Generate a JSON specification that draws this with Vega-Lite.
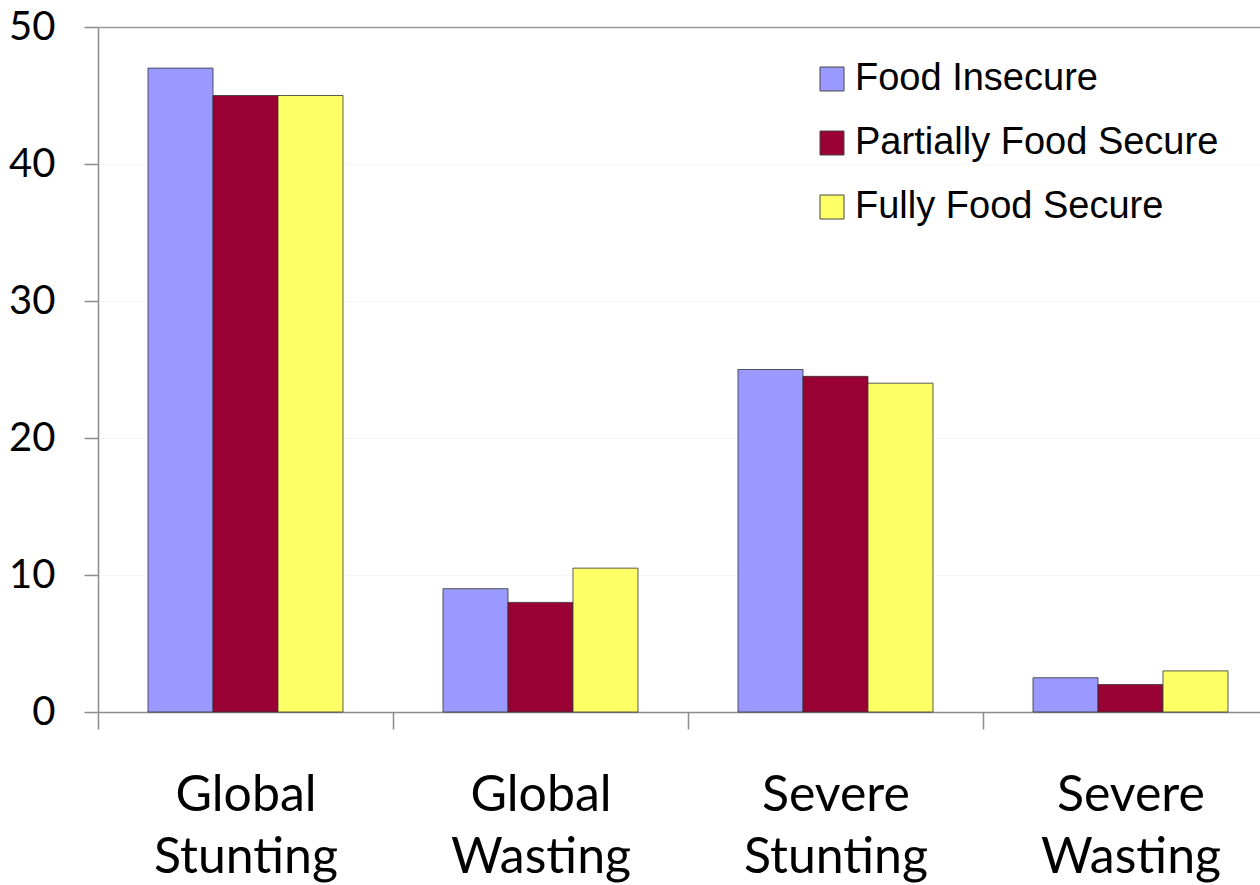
{
  "$schema": "https://vega.github.io/schema/vega-lite/v6.json",
  "width": 1162,
  "height": 685,
  "autosize": {"type": "none"},
  "padding": {"left": 98, "top": 27, "right": 0, "bottom": 173},
  "background": "white",
  "config": {"view": {"stroke": null}},
  "data": {
    "values": [
      {"indicator": "Global Stunting", "group": "Food Insecure", "value": 47},
      {"indicator": "Global Stunting", "group": "Partially Food Secure", "value": 45},
      {"indicator": "Global Stunting", "group": "Fully Food Secure", "value": 45},
      {"indicator": "Global Wasting", "group": "Food Insecure", "value": 9},
      {"indicator": "Global Wasting", "group": "Partially Food Secure", "value": 8},
      {"indicator": "Global Wasting", "group": "Fully Food Secure", "value": 10.5},
      {"indicator": "Severe Stunting", "group": "Food Insecure", "value": 25},
      {"indicator": "Severe Stunting", "group": "Partially Food Secure", "value": 24.5},
      {"indicator": "Severe Stunting", "group": "Fully Food Secure", "value": 24},
      {"indicator": "Severe Wasting", "group": "Food Insecure", "value": 2.5},
      {"indicator": "Severe Wasting", "group": "Partially Food Secure", "value": 2},
      {"indicator": "Severe Wasting", "group": "Fully Food Secure", "value": 3}
    ]
  },
  "mark": {"type": "bar", "stroke": "#333333", "strokeWidth": 1, "strokeOpacity": 0.8},
  "encoding": {
    "x": {
      "field": "indicator",
      "type": "nominal",
      "sort": ["Global Stunting", "Global Wasting", "Severe Stunting", "Severe Wasting"],
      "scale": {"range": [0, 1180], "paddingInner": 0.339, "paddingOuter": 0.1695},
      "axis": {
        "title": null,
        "labelAngle": 0,
        "grid": false,
        "tickOffset": -147.5,
        "labelOffset": 147.5,
        "domainColor": "#8c8c8c",
        "domainWidth": 1.5,
        "tickColor": "#8c8c8c",
        "tickWidth": 1.5,
        "tickSize": 17,
        "labelExpr": "split(datum.label, ' ')",
        "labelFont": "Lato",
        "labelFontSize": 50,
        "labelLineHeight": 62,
        "labelColor": "#000000",
        "labelPadding": 41,
        "labelLimit": 0
      }
    },
    "xOffset": {
      "field": "group",
      "sort": ["Food Insecure", "Partially Food Secure", "Fully Food Secure"],
      "scale": {"paddingInner": 0, "paddingOuter": 0}
    },
    "y": {
      "field": "value",
      "type": "quantitative",
      "scale": {"domain": [0, 50], "nice": false},
      "axis": {
        "title": null,
        "values": [0, 10, 20, 30, 40, 50],
        "grid": true,
        "gridColor": {"condition": {"test": "datum.value === 50", "value": "#999999"}, "value": "#f6f6f6"},
        "gridWidth": {"condition": {"test": "datum.value === 50", "value": 1.5}, "value": 1},
        "domainColor": "#8c8c8c",
        "domainWidth": 1.5,
        "tickColor": "#8c8c8c",
        "tickWidth": 1.5,
        "tickSize": 14,
        "labelFont": "Lato",
        "labelFontSize": 40,
        "labelColor": "#000000",
        "labelPadding": 29
      }
    },
    "color": {
      "field": "group",
      "type": "nominal",
      "sort": ["Food Insecure", "Partially Food Secure", "Fully Food Secure"],
      "scale": {
        "domain": ["Food Insecure", "Partially Food Secure", "Fully Food Secure"],
        "range": ["#9999FF", "#990033", "#FFFF66"]
      },
      "legend": {
        "title": null,
        "orient": "none",
        "legendX": 715,
        "legendY": 33,
        "symbolType": "square",
        "symbolSize": 576,
        "symbolStrokeColor": "#444444",
        "symbolStrokeWidth": 1,
        "labelFont": "Liberation Sans",
        "labelFontSize": 38,
        "labelColor": "#000000",
        "labelOffset": 4,
        "rowPadding": 26,
        "labelLimit": 500
      }
    }
  }
}
